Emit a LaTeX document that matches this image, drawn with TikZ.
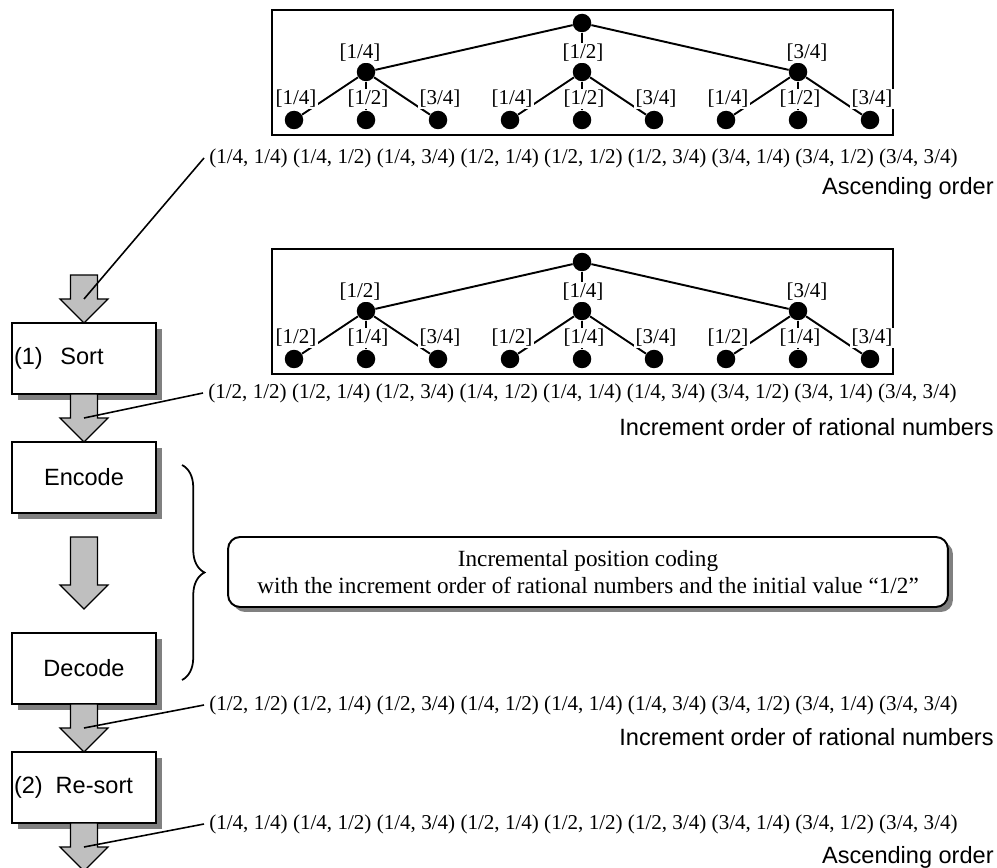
\documentclass[tikz,border=0pt]{standalone}
\usepackage{fontspec}
\setmainfont{Liberation Serif}
\setsansfont{Liberation Sans}
\usetikzlibrary{shadows}
\usetikzlibrary{decorations.pathreplacing}

\tikzset{
	treebox/.style={line width=1.3pt},
	treedot/.style={circle, fill=black, inner sep=0pt, minimum size=0.37cm},
	treeline/.style={line width=1.1pt},
	tag/.style={fill=white, inner sep=0.6pt, font=\fontsize{12pt}{14pt}\selectfont},
	row/.style={anchor=west, inner xsep=2.8pt, inner ysep=0pt, font=\fontsize{12pt}{14pt}\selectfont},
	caption/.style={anchor=east, inner sep=0pt, font=\sffamily\fontsize{13.4pt}{16pt}\selectfont},
	stepbox/.style={draw, line width=1.4pt, fill=white, minimum width=2.88cm, minimum height=1.42cm,
		inner sep=0pt, font=\sffamily\fontsize{13.4pt}{16pt}\selectfont,
		drop shadow={shadow xshift=0.12cm, shadow yshift=-0.12cm, fill=black!50, opacity=1}},
	numbox/.style={text width=2.8cm, align=left, inner xsep=0.04cm},
	blockarrow/.style={draw, line width=0.7pt, fill=black!25},
	leader/.style={line width=0.9pt},
	notebox/.style={draw, line width=1.1pt, rounded corners=0.24cm, fill=white, minimum width=14.4cm,
		minimum height=1.4cm, align=center, font=\fontsize{13.2pt}{14.9pt}\selectfont,
		drop shadow={shadow xshift=0.1cm, shadow yshift=-0.1cm, fill=black!50, opacity=1}}
}

\begin{document}
\begin{tikzpicture}[x=0.02cm, y=-0.02cm]

\useasboundingbox (0,0) rectangle (997,868);

% Tree in ascending order.

	\draw[treebox] (272,10) rectangle (893,135);
	\node[treedot] (rootA) at (582,23) {};
	\foreach \x/\s/\n/\d [count=\i] in {366/-6/1/4, 582/1/1/2, 798/9/3/4} {
		\node[treedot] (midA\i) at (\x,72) {};
		\draw[treeline] (rootA) -- (midA\i);
		\foreach \dx/\p/\q [count=\j] in {-72/1/4, 0/1/2, 72/3/4} {
			\node[treedot] (leafA\i\j) at (\x+\dx,120) {};
			\draw[treeline] (midA\i) -- (leafA\i\j);
			\node[tag] at (\x+\dx+2,99) {[\p/\q]};
		}
		\node[tag] at (\x+\s,53) {[\n/\d]};
	}

% Tree in increment order.

	\draw[treebox] (272,249) rectangle (893,374);
	\node[treedot] (rootB) at (582,262) {};
	\foreach \x/\s/\n/\d [count=\i] in {366/-6/1/2, 582/1/1/4, 798/9/3/4} {
		\node[treedot] (midB\i) at (\x,311) {};
		\draw[treeline] (rootB) -- (midB\i);
		\foreach \dx/\p/\q [count=\j] in {-72/1/2, 0/1/4, 72/3/4} {
			\node[treedot] (leafB\i\j) at (\x+\dx,359) {};
			\draw[treeline] (midB\i) -- (leafB\i\j);
			\node[tag] at (\x+\dx+2,338) {[\p/\q]};
		}
		\node[tag] at (\x+\s,292) {[\n/\d]};
	}

% Sequences and orders.

	\node[row] (rowA) at (204,158) {(1/4, 1/4) (1/4, 1/2) (1/4, 3/4) (1/2, 1/4) (1/2, 1/2) (1/2, 3/4) (3/4, 1/4) (3/4, 1/2) (3/4, 3/4)};
	\node[caption] (capA) at (994,188) {Ascending order};

	\node[row] (rowB) at (203,393) {(1/2, 1/2) (1/2, 1/4) (1/2, 3/4) (1/4, 1/2) (1/4, 1/4) (1/4, 3/4) (3/4, 1/2) (3/4, 1/4) (3/4, 3/4)};
	\node[caption] (capB) at (994,427) {Increment order of rational numbers};

	\node[row] (rowC) at (204,705) {(1/2, 1/2) (1/2, 1/4) (1/2, 3/4) (1/4, 1/2) (1/4, 1/4) (1/4, 3/4) (3/4, 1/2) (3/4, 1/4) (3/4, 3/4)};
	\node[caption] (capC) at (994,737) {Increment order of rational numbers};

	\node[row] (rowD) at (204,824) {(1/4, 1/4) (1/4, 1/2) (1/4, 3/4) (1/2, 1/4) (1/2, 1/2) (1/2, 3/4) (3/4, 1/4) (3/4, 1/2) (3/4, 3/4)};
	\node[caption] (capD) at (994,857) {Ascending order};

% Process steps.

	\node[stepbox, numbox] (sort) at (84,358.5) {(1)\hspace{0.75em}Sort};
	\node[stepbox] (encode) at (84,477.5) {Encode};
	\node[stepbox] (decode) at (84,668.5) {Decode};
	\node[stepbox, numbox] (resort) at (84,787.5) {(2)\hspace{0.55em}Re-sort};

% Block arrows.

	\foreach \ya/\yb/\yc [count=\k] in {275/299/323, 394/418/442, 537/585/609, 704/728/752, 823/847/871} {
		\draw[blockarrow] (70.5,\ya) -- (97.5,\ya) -- (97.5,\yb) -- (108,\yb) -- (84,\yc) -- (60,\yb) -- (70.5,\yb) -- cycle;
		\coordinate (lead\k) at (84,\yb);
	}

% Leader lines.

	\draw[leader] (rowA.west) -- (lead1);
	\draw[leader] (rowB.west) -- (lead2);
	\draw[leader] (rowC.west) -- (lead4);
	\draw[leader] (rowD.west) -- (lead5);

% Coding note.

	\coordinate (braceTop) at (182,465);
	\coordinate (braceBot) at (182,680);
	\draw[decorate, decoration={brace, amplitude=0.45cm}, line width=1pt] (braceTop) -- (braceBot);

	\node[notebox] (note) at (588,572) {Incremental position coding\\with the increment order of rational numbers and the initial value ``1/2''};

\end{tikzpicture}
\end{document}
